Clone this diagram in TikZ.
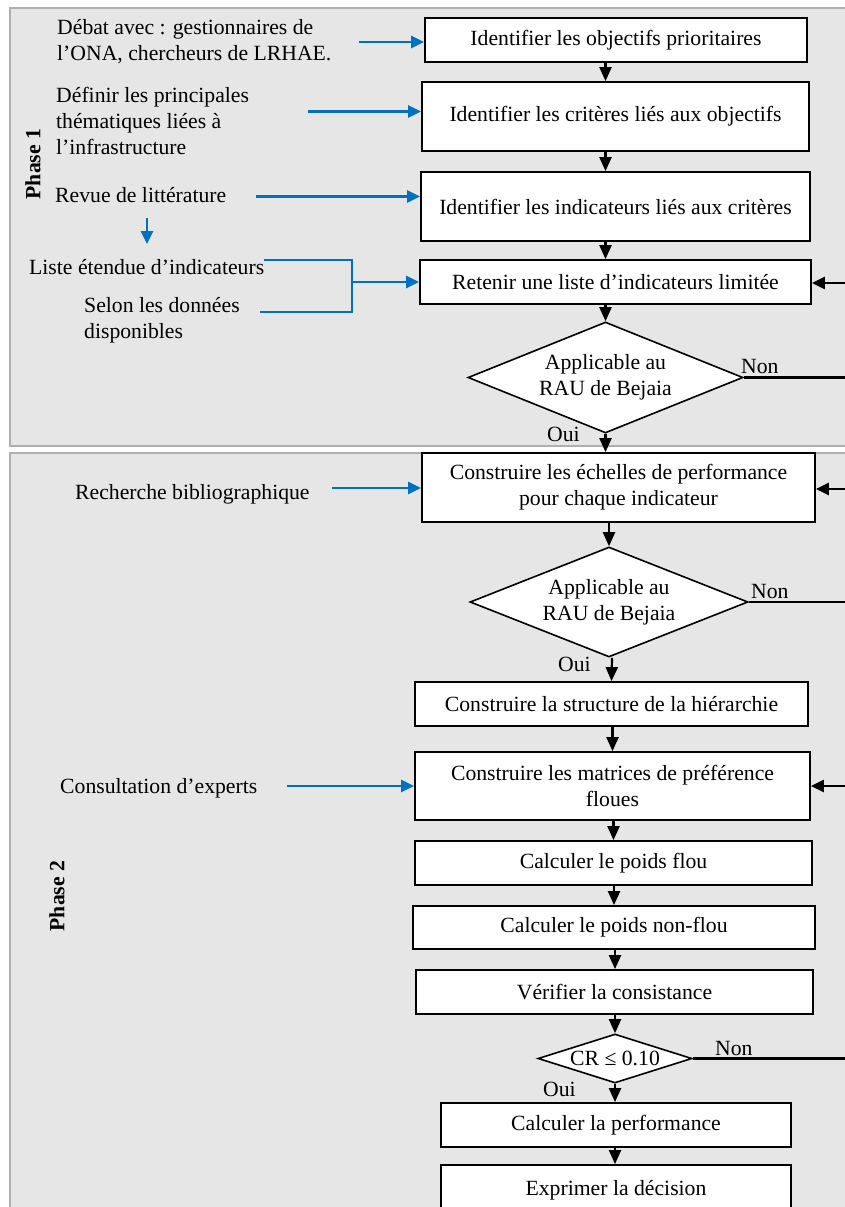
\documentclass[tikz,border=0pt]{standalone}
\usepackage{fontspec}
\setmainfont{Liberation Serif}
\usetikzlibrary{arrows.meta,shapes.geometric}
\definecolor{panelfill}{RGB}{230,230,230}
\definecolor{panelline}{RGB}{175,175,175}
\definecolor{srcblue}{RGB}{0,112,192}
\begin{document}
\begin{tikzpicture}[x=1pt,y=-1pt,
  every node/.style={font=\fontsize{21.7}{26}\selectfont},
  panel/.style={fill=panelfill,draw=panelline,line width=1.5pt},
  box/.style={draw=black,fill=white,line width=1.8pt,inner sep=0,align=center},
  dia/.style={shape=diamond,draw=black,fill=white,line width=1.6pt,inner sep=-3pt,align=center},
  note/.style={inner sep=0,anchor=base west,align=left},
  lbl/.style={inner sep=0,anchor=base west},
  flow/.style={draw=black,line width=2.2pt,-{Triangle[length=14pt,width=12pt]}},
  back/.style={draw=black,line width=2.5pt,-{Triangle[length=13pt,width=12pt]}},
  nonline/.style={draw=black,line width=2.6pt},
  src/.style={draw=srcblue,line width=2.6pt,-{Triangle[length=13pt,width=12pt]}},
  bracket/.style={draw=srcblue,line width=2.2pt}]
\useasboundingbox (0,0) rectangle (844,1207);

% phase panels
\path[panel] (10,8) rectangle (870,446);
\path[panel] (10,453) rectangle (870,1230);
\node[rotate=90,inner sep=0,font=\fontsize{21.7}{26}\selectfont\bfseries] (ph1) at (33,164) {Phase 1};
\node[rotate=90,inner sep=0,font=\fontsize{21.7}{26}\selectfont\bfseries] (ph2) at (57,896) {Phase 2};

% phase 1 steps
\node[box,minimum width=382,minimum height=44] (b1) at (616,40) {Identifier les objectifs prioritaires};
\node[box,minimum width=387,minimum height=69] (b2) at (615.5,116.5) {Identifier les critères liés aux objectifs};
\node[box,minimum width=389,minimum height=69] (b3) at (615.5,206.5) {Identifier les indicateurs liés aux critères};
\node[box,minimum width=391,minimum height=44] (b4) at (615.5,282) {Retenir une liste d’indicateurs limitée};
\node[dia,aspect=2.48,minimum width=275,minimum height=111] (d1) at (605.5,377.5) {Applicable au\\RAU de Bejaia};

% phase 2 steps
\node[box,minimum width=393,minimum height=69] (b5) at (618.5,487.5) {Construire les échelles de performance\\pour chaque indicateur};
\node[dia,aspect=2.53,minimum width=278,minimum height=110] (d2) at (609,602) {Applicable au\\RAU de Bejaia};
\node[box,minimum width=393,minimum height=44] (b6) at (611.5,704) {Construire la structure de la hiérarchie};
\node[box,minimum width=395,minimum height=68] (b7) at (612.5,786) {Construire les matrices de préférence\\floues};
\node[box,minimum width=397,minimum height=44] (b8) at (613.5,863) {Calculer le poids flou};
\node[box,minimum width=402,minimum height=43] (b9) at (614,927.5) {Calculer le poids non-flou};
\node[box,minimum width=397,minimum height=44] (b10) at (614.5,992) {Vérifier la consistance};
\node[dia,aspect=3.1,minimum width=154,minimum height=49] (d3) at (615,1058.5) {CR ≤ 0.10};
\node[box,minimum width=350,minimum height=44] (b11) at (616,1125) {Calculer la performance};
\node[box,minimum width=350,minimum height=50] (b12) at (616,1190) {Exprimer la décision};

% main flow
\draw[flow] (b1.south -| d1.north) -- (b2.north -| d1.north);
\draw[flow] (b2.south -| d1.north) -- (b3.north -| d1.north);
\draw[flow] (b3.south -| d1.north) -- (b4.north -| d1.north);
\draw[flow] (b4.south -| d1.north) -- (d1.north);
\draw[flow] (d1.south) -- (b5.north -| d1.south);
\draw[flow] (b5.south -| d2.north) -- (d2.north);
\draw[flow] (d2.south) ++(3,0) -- (b6.north -| b6.center);
\draw[flow] (b6.south -| b7.center) -- (b7.north -| b7.center);
\draw[flow] (b7.south -| b8.center) -- (b8.north -| b8.center);
\draw[flow] (b8.south -| b9.center) -- (b9.north -| b9.center);
\draw[flow] (b9.south -| d3.north) -- (b10.north -| d3.north);
\draw[flow] (b10.south -| d3.north) -- (d3.north);
\draw[flow] (d3.south) -- (b11.north -| d3.south);
\draw[flow] (b11.south -| d3.south) -- (b12.north -| d3.south);

% decision labels
\node[lbl] (oui1) at (547,441) {Oui};
\node[lbl] (non1) at (741,373) {Non};
\node[lbl] (oui2) at (558,671) {Oui};
\node[lbl] (non2) at (751,598) {Non};
\node[lbl] (oui3) at (543,1096) {Oui};
\node[lbl] (non3) at (715,1055) {Non};

% rejected branches leave to the right, loop-backs come in from the right
\coordinate (e1) at (850,377.5);
\coordinate (e2) at (850,602);
\coordinate (e3) at (850,1058.5);
\draw[nonline] (d1.east) -- (e1);
\draw[nonline] (d2.east) -- (e2);
\draw[nonline] (d3.east) -- (e3);
\coordinate (r4) at (850,283);
\coordinate (r5) at (850,489);
\coordinate (r7) at (850,786);
\draw[back] (r4) -- (r4 -| b4.east);
\draw[back] (r5) -- (r5 -| b5.east);
\draw[back] (r7) -- (r7 -| b7.east);

% inputs on the left (anchored on the baseline of the last line)
\node[note] (t1) at (57,61) {Débat avec : gestionnaires de\\l’ONA, chercheurs de LRHAE.};
\node[note] (t2) at (56,154) {Définir les principales\\thématiques liées à\\l’infrastructure};
\node[note] (t3) at (55,202) {Revue de littérature};
\node[note] (t4) at (29,274) {Liste étendue d’indicateurs};
\node[note] (t5) at (84,338) {Selon les données\\disponibles};
\node[note] (t6) at (75,499) {Recherche bibliographique};
\node[note] (t7) at (60,793) {Consultation d’experts};

\coordinate (s1) at (359,42);
\coordinate (s2) at (308,111.5);
\coordinate (s3) at (256,196.5);
\coordinate (s6) at (332,488);
\coordinate (s7) at (287,786);
\draw[src] (s1) -- (s1 -| b1.west);
\draw[src] (s2) -- (s2 -| b2.west);
\draw[src] (s3) -- (s3 -| b3.west);
\draw[src] (s6) -- (s6 -| b5.west);
\draw[src] (s7) -- (s7 -| b7.west);

% literature review narrows to the extended list
\coordinate (v1) at (147,218);
\coordinate (v2) at (147,244);
\draw[src] (v1) -- (v2);

% bracket joining the two lists
\coordinate (k1) at (264,260);
\coordinate (k2) at (352,260);
\coordinate (k3) at (352,312);
\coordinate (k4) at (260,312);
\coordinate (km) at (352,282);
\draw[bracket] (k1) -- (k2) -- (k3) -- (k4);
\draw[src] (km) -- (km -| b4.west);
\end{tikzpicture}
\end{document}
